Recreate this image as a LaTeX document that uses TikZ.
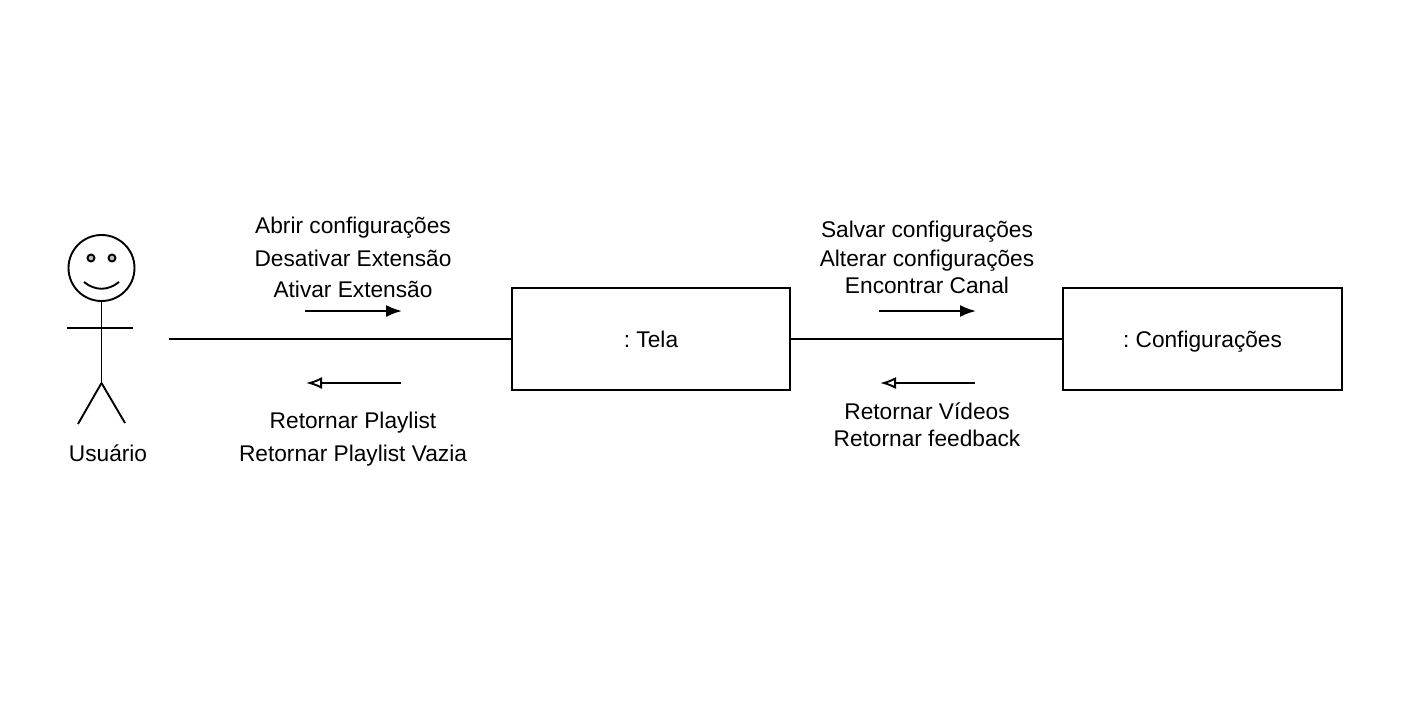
\documentclass[tikz,border=0pt]{standalone}
\usepackage{fontspec}
\setmainfont{Liberation Sans}
\usetikzlibrary{arrows.meta}
\tikzset{
    obj/.style = {shape = rectangle, draw, minimum width = 278.4pt, minimum height = 102.4pt, inner sep = 0pt, text height = 17pt, text depth = 0pt, font = \fontsize{22.7pt}{24pt}\selectfont\frenchspacing},
    lbl/.style = {inner sep = 0pt, anchor = base, font = \fontsize{22.7pt}{24pt}\selectfont},
    fwd/.style = {-{Latex[length = 16pt, width = 12pt]}},
    back/.style = {-{Latex[open, length = 16pt, width = 12pt]}}
}
\begin{document}
\begin{tikzpicture}[x = 1pt, y = -1pt, line width = 1.9pt]
    \useasboundingbox (0,0) rectangle (1401,720);
    % actor
    \node (head) [shape = circle, draw, minimum size = 66pt, inner sep = 0pt] at (101.5,268) {};
    \node (eyeL) [shape = circle, draw, fill = black!25, minimum size = 7pt, inner sep = 0pt] at (91,258) {};
    \node (eyeR) [shape = circle, draw, fill = black!25, minimum size = 7pt, inner sep = 0pt] at (112,258) {};
    \draw (84,282) .. controls (95,291) and (108,291) .. (119,282);
    \coordinate (hip) at (101.5,383);
    \coordinate (armL) at (67,328);
    \coordinate (armR) at (133,328);
    \coordinate (footL) at (78,424);
    \coordinate (footR) at (125,423);
    \draw (head.south) -- (hip);
    \draw (armL) -- (armR);
    \draw (hip) -- (footL);
    \draw (hip) -- (footR);
    \node (usuario) [lbl] at (108,461) {Usuário};
    % objects
    \node (tela) [obj] at (651,339) {: Tela};
    \node (config) [obj] at (1202.5,339) {: Configurações};
    \coordinate (actorEnd) at (169,339);
    \draw (actorEnd) -- (tela.west);
    \draw (tela.east) -- (config.west);
    % arrows
    \coordinate (a1) at (305,311);
    \coordinate (a2) at (402,311);
    \coordinate (b1) at (401,383);
    \coordinate (b2) at (306,383);
    \coordinate (c1) at (879,311);
    \coordinate (c2) at (976,311);
    \coordinate (d1) at (975,383);
    \coordinate (d2) at (880,383);
    \draw [fwd] (a1) -- (a2);
    \draw [back] (b1) -- (b2);
    \draw [fwd] (c1) -- (c2);
    \draw [back] (d1) -- (d2);
    % messages
    \node (abrir) [lbl] at (353,233) {Abrir configurações};
    \node (desativar) [lbl] at (353,266) {Desativar Extensão};
    \node (ativar) [lbl] at (353,297.5) {Ativar Extensão};
    \node (playlist) [lbl] at (353,428) {Retornar Playlist};
    \node (vazia) [lbl] at (353,461) {Retornar Playlist Vazia};
    \node (salvar) [lbl] at (927,237) {Salvar configurações};
    \node (alterar) [lbl] at (927,266) {Alterar configurações};
    \node (canal) [lbl] at (927,293) {Encontrar Canal};
    \node (videos) [lbl] at (927,419) {Retornar Vídeos};
    \node (feedback) [lbl] at (927,446) {Retornar feedback};
\end{tikzpicture}
\end{document}
